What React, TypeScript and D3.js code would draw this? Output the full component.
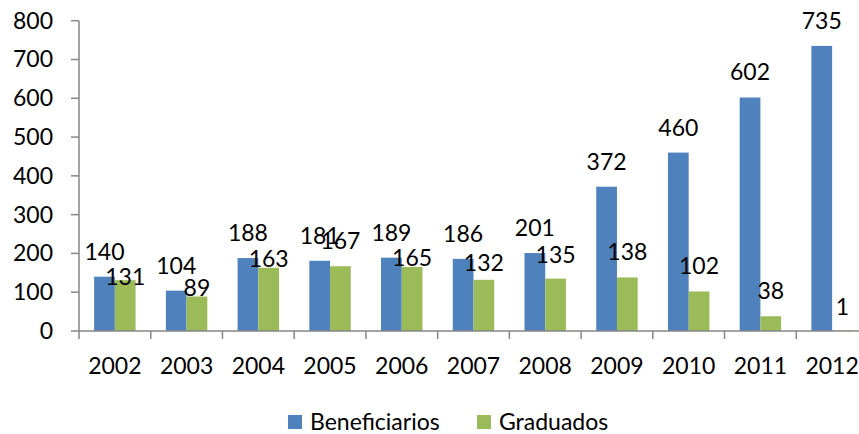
import * as d3 from "d3";

const years = ["2002", "2003", "2004", "2005", "2006", "2007", "2008", "2009", "2010", "2011", "2012"];
const beneficiarios = [140, 104, 188, 181, 189, 186, 201, 372, 460, 602, 735];
const graduados = [131, 89, 163, 167, 165, 132, 135, 138, 102, 38, 1];
const seriesNames = ["Beneficiarios", "Graduados"];
const seriesColors = ["#4F81BD", "#9BBB59"];
const yTicks = [0, 100, 200, 300, 400, 500, 600, 700, 800];
// labels were dragged by hand in the original; lift (px) of each label centre above its bar
const blueLift = [25, 25, 25, 25, 25, 25, 25, 25, 25, 25, 25];
const greenLift = [3, 8, 9, 25, 9, 17, 24, 25, 25, 25, 24];

const W = 859;
const H = 434;
const FONT = "Lato, 'Open Sans', sans-serif";
const FS = 23;
const MID = 8; // baseline offset that centres digits on a point

export default function App() {
  const x = d3.scaleBand<string>().domain(years).range([79, 868]).paddingInner(0).paddingOuter(0);
  const inner = d3.scaleBand<string>().domain(seriesNames).range([0, x.bandwidth()]).paddingInner(0).paddingOuter(0.73);
  const y = d3.scaleLinear().domain([0, 800]).range([331, 20.7]);

  const data = [beneficiarios, graduados];
  const lifts = [blueLift, greenLift];
  const axisColor = "#868686";
  const boundaries = years.map((yr) => x(yr)!).concat([x(years[years.length - 1])! + x.bandwidth()]);

  return (
    <svg
      width={W}
      height={H}
      style={{ position: "absolute", left: 0, top: 0, display: "block", background: "#fff" }}
      fontFamily={FONT}
    >
      {/* bars */}
      {data.map((vals, si) =>
        vals.map((v, i) => (
          <rect
            key={`b-${si}-${i}`}
            x={x(years[i])! + inner(seriesNames[si])!}
            y={y(v)}
            width={inner.bandwidth()}
            height={y(0) - y(v)}
            fill={seriesColors[si]}
          />
        ))
      )}

      {/* y axis */}
      <line x1={79} x2={79} y1={y(800)} y2={y(0)} stroke={axisColor} strokeWidth={1.5} />
      {yTicks.map((t) => (
        <g key={`yt-${t}`}>
          <line x1={71} x2={79} y1={y(t)} y2={y(t)} stroke={axisColor} strokeWidth={1.5} />
          <text x={53} y={y(t) + MID} textAnchor="end" fontSize={FS} fill="#000">
            {t}
          </text>
        </g>
      ))}

      {/* x axis */}
      <line x1={79} x2={W} y1={y(0)} y2={y(0)} stroke={axisColor} strokeWidth={1.5} />
      {boundaries.map((bx, i) => (
        <line key={`xt-${i}`} x1={bx} x2={bx} y1={y(0)} y2={y(0) + 8} stroke={axisColor} strokeWidth={1.5} />
      ))}
      {years.map((yr) => (
        <text key={`xl-${yr}`} x={x(yr)! + x.bandwidth() / 2} y={374} textAnchor="middle" fontSize={FS} fill="#000">
          {yr}
        </text>
      ))}

      {/* data labels */}
      {data.map((vals, si) =>
        vals.map((v, i) => (
          <text
            key={`l-${si}-${i}`}
            x={x(years[i])! + inner(seriesNames[si])! + inner.bandwidth() / 2}
            y={y(v) - lifts[si][i] + MID}
            textAnchor="middle"
            fontSize={FS}
            fill="#000"
          >
            {v}
          </text>
        ))
      )}

      {/* legend */}
      <rect x={288} y={415} width={14} height={14} fill={seriesColors[0]} />
      <text x={310} y={430} fontSize={FS} fill="#000">
        {seriesNames[0]}
      </text>
      <rect x={477} y={415} width={14} height={14} fill={seriesColors[1]} />
      <text x={499} y={430} fontSize={FS} fill="#000">
        {seriesNames[1]}
      </text>
    </svg>
  );
}
